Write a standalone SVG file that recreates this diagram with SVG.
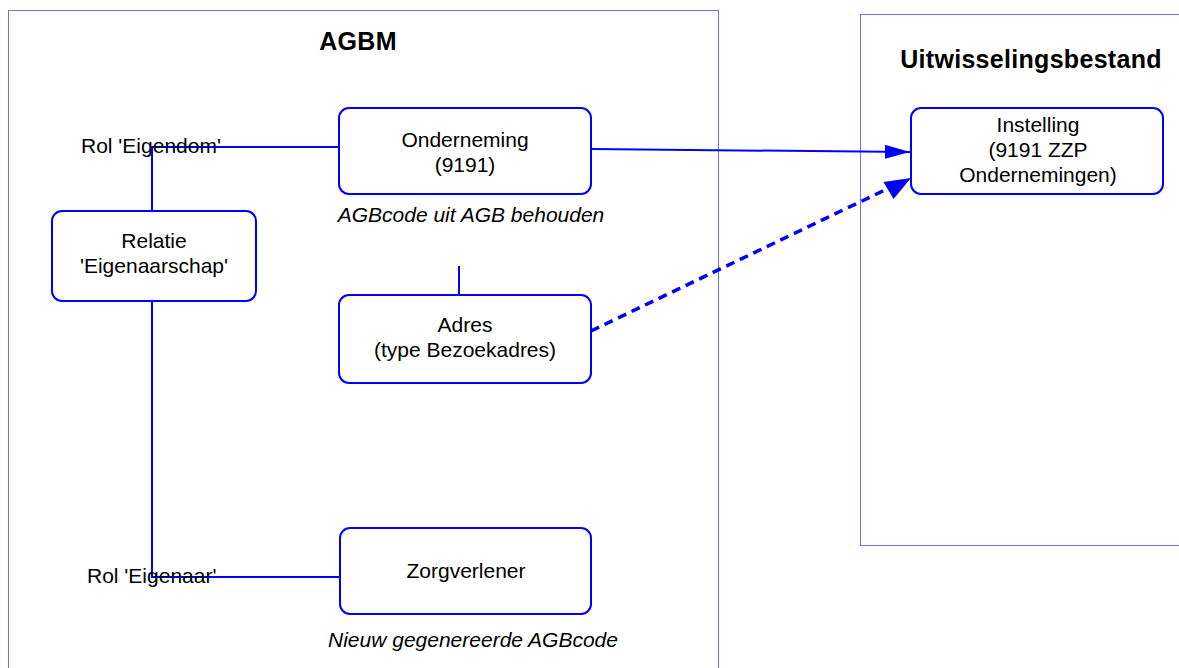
<svg xmlns="http://www.w3.org/2000/svg" width="1179" height="668" viewBox="0 0 1179 668">
<style>
.frame{fill:none;stroke:#7070f0;stroke-width:1}
.box{fill:#fff;stroke:#0000ff;stroke-width:2}
.t{font-family:"Liberation Sans",Arial,sans-serif;font-size:21px;fill:#000;text-anchor:middle}
.l{text-anchor:start}
.i{font-style:italic}
.h{font-family:"Liberation Sans",Arial,sans-serif;font-size:25px;font-weight:bold;letter-spacing:0.3px;fill:#000;text-anchor:middle}
.c{fill:none;stroke:#0000ff;stroke-width:2}
.d{fill:none;stroke:#0000ff;stroke-width:3.5;stroke-dasharray:9,6}
</style>
<defs>
<marker id="ah" markerUnits="userSpaceOnUse" markerWidth="26" markerHeight="14" refX="25" refY="7" orient="auto">
<path d="M0,0 L25,7 L0,14 Z" fill="#0000ff"/>
</marker>
</defs>
<rect width="1179" height="668" fill="#fff"/>
<g id="frame-agbm">
<rect class="frame" x="8.5" y="10.5" width="710" height="670"/>
<text class="h" x="358" y="50">AGBM</text>
</g>
<g id="frame-uitwisselingsbestand">
<rect class="frame" x="860.5" y="14.5" width="330" height="531"/>
<text class="h" x="1031" y="68">Uitwisselingsbestand</text>
</g>
<g id="connectors">
<polyline class="c" points="339,147 152,147 152,211"/>
<polyline class="c" points="152,301 152,577 340,577"/>
<line class="c" x1="459" y1="266" x2="459" y2="295"/>
<line class="c" x1="591" y1="149" x2="910" y2="152" marker-end="url(#ah)"/>
<line class="d" x1="591" y1="331" x2="889" y2="188"/>
<path d="M911,178 L883.5,182 L893.5,199 Z" fill="#0000ff"/>
</g>
<g id="label-rol-eigendom"><text class="t l" x="81" y="153">Rol 'Eigendom'</text></g>
<g id="label-rol-eigenaar"><text class="t l" x="87" y="583">Rol 'Eigenaar'</text></g>
<g id="node-onderneming">
<rect class="box" x="339" y="108" width="252" height="86" rx="10"/>
<text class="t" x="465" y="147">Onderneming</text>
<text class="t" x="465" y="172">(9191)</text>
</g>
<g id="note-agbcode"><text class="t i" x="471" y="222">AGBcode uit AGB behouden</text></g>
<g id="node-adres">
<rect class="box" x="339" y="295" width="252" height="88" rx="10"/>
<text class="t" x="465" y="332">Adres</text>
<text class="t" x="465" y="357">(type Bezoekadres)</text>
</g>
<g id="node-relatie">
<rect class="box" x="52" y="211" width="204" height="90" rx="10"/>
<text class="t" x="154" y="248">Relatie</text>
<text class="t" x="154" y="273">'Eigenaarschap'</text>
</g>
<g id="node-zorgverlener">
<rect class="box" x="340" y="528" width="251" height="86" rx="10"/>
<text class="t" x="466" y="578">Zorgverlener</text>
</g>
<g id="note-nieuw"><text class="t i" x="473" y="647">Nieuw gegenereerde AGBcode</text></g>
<g id="node-instelling">
<rect class="box" x="911" y="108" width="252" height="86" rx="10"/>
<text class="t" x="1038" y="132">Instelling</text>
<text class="t" x="1038" y="157">(9191 ZZP</text>
<text class="t" x="1038" y="182">Ondernemingen)</text>
</g>
</svg>
